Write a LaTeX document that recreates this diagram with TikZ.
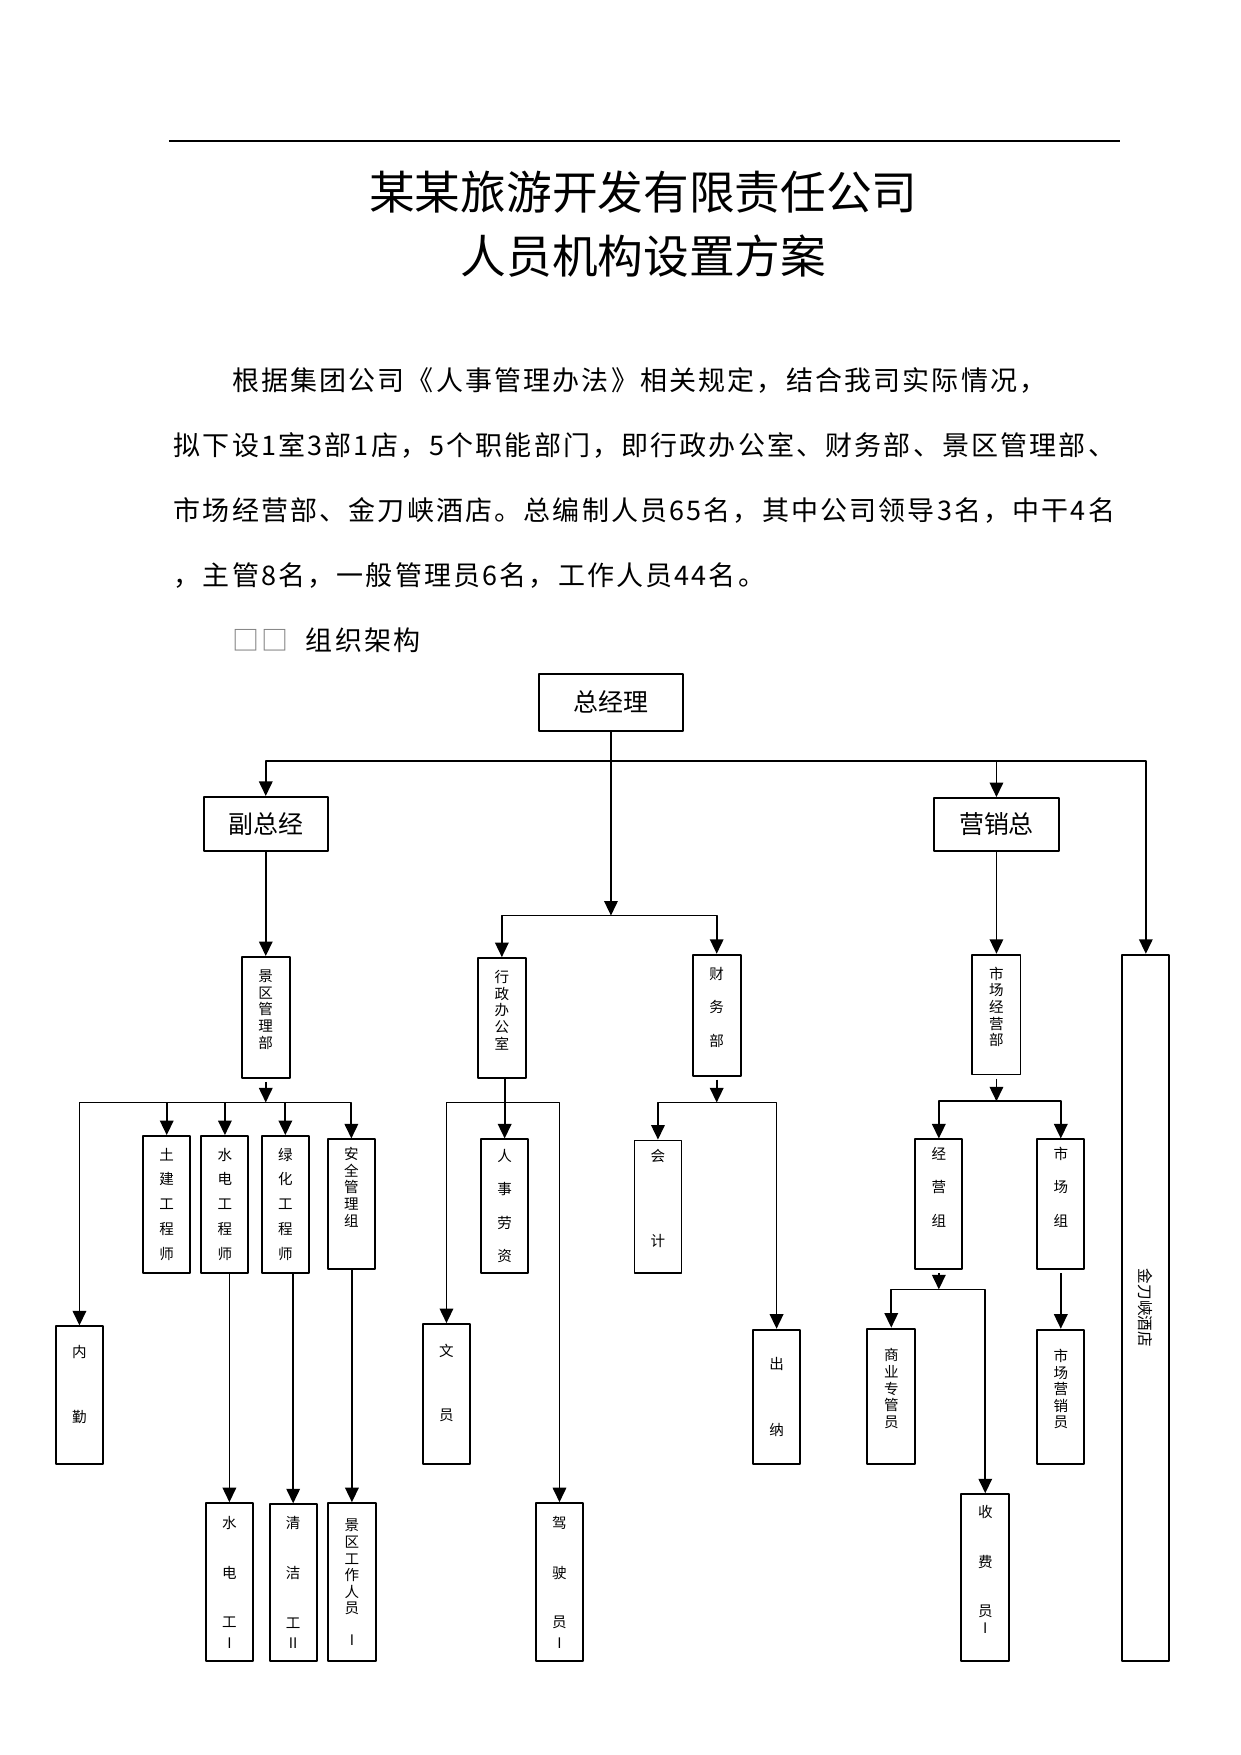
\documentclass[tikz,border=0pt]{standalone}
\usepackage{fontspec}
\setmainfont{Noto Sans CJK SC}
\usetikzlibrary{arrows.meta}
\newcommand\px{0.1894mm}
\begin{document}
\begin{tikzpicture}[x=0.18936mm, y=-0.18941mm, line join=round, >={Triangle[length=7pt,width=6.5pt]},
  box/.style 2 args={draw, line width=0.9pt, inner sep=0pt, minimum width=#1*\px, minimum height=#2*\px},
  vt/.style={align=center, font=\fontsize{7pt}{8pt}\selectfont},
  big/.style={font=\fontsize{12pt}{14pt}\selectfont},
  ttl/.style={inner sep=0pt, font=\fontsize{22pt}{26pt}\selectfont},
  para/.style={anchor=west, inner sep=0pt, font=\fontsize{13pt}{15pt}\selectfont\addfontfeature{LetterSpace=8}},
  conn/.style={line width=0.85pt}]
\useasboundingbox (0,0) rectangle (1109,1568);
\draw[line width=0.8pt] (151,126) -- (1001,126);
\node[ttl] (title1) at (575,172) {某某旅游开发有限责任公司};
\node[ttl] (title2) at (575,229) {人员机构设置方案};
\node[para] (p1) at (207,340) {根据集团公司《人事管理办法》相关规定，结合我司实际情况，};
\node[para] (p2) at (155,398) {拟下设1室3部1店，5个职能部门，即行政办公室、财务部、景区管理部、};
\node[para] (p3) at (155,456) {市场经营部、金刀峡酒店。总编制人员65名，其中公司领导3名，中干4名};
\node[para] (p4) at (155,514) {，主管8名，一般管理员6名，工作人员44名。};
\node[para, text=gray] (sq) at (207,572) {□□};
\node[para] (p5) at (273,572) {组织架构};

\node[box={128}{51}, big] (zjl) at (546,627.5) {总经理};
\node[box={111}{48}, big] (fzj) at (237.5,736) {副总经\hspace{9.7pt}};
\node[box={111}{47}, big] (yxz) at (890.5,736.5) {营销总};
\node[box={43}{108}, vt] (jq) at (237.5,909) {景\\区\\管\\理\\部\\\mbox{}};
\node[box={43}{107}, vt] (xz) at (448.5,909.5) {行\\政\\办\\公\\室\\\mbox{}};
\node[box={43}{108}, vt] (cw) at (640.5,907) {财\\[8pt]务\\[8pt]部\\\mbox{}};
\node[box={43}{107}, vt] (sc) at (890.5,906.5) {市\\场\\经\\营\\部\\\mbox{}};
\node[box={42}{631}] (jdx) at (1024,1168.5) {};
\node[rotate=-90, font=\fontsize{7.5pt}{9pt}\selectfont] (jdxt) at (jdx) {金刀峡酒店};

\node[box={42}{123}, vt] (nq) at (71,1246.5) {内\\[23pt]勤\\[3pt]\mbox{}};
\node[box={42}{122}, vt] (tj) at (149,1076) {土\\[4pt]建\\[4pt]工\\[4pt]程\\[4pt]师};
\node[box={42}{122}, vt] (sd) at (201,1076) {水\\[4pt]电\\[4pt]工\\[4pt]程\\[4pt]师};
\node[box={42}{122}, vt] (lh) at (255,1076) {绿\\[4pt]化\\[4pt]工\\[4pt]程\\[4pt]师};
\node[box={42}{116}, vt] (aq) at (314,1076) {安\\全\\管\\理\\组\\[9pt]\mbox{}};
\node[box={42}{141}, vt] (sdg) at (205,1413.5) {水\\[16pt]电\\[16pt]工\\[1.7pt]I};
\node[box={42}{140}, vt] (qj) at (262,1414) {清\\[16pt]洁\\[16pt]工\\[1.7pt]II};
\node[box={43}{141}, vt] (jqry) at (314.5,1413.5) {景\\区\\工\\作\\人\\员\\[7pt]I};

\node[box={42}{119}, vt] (rs) at (451,1077.5) {人\\[8pt]事\\[8pt]劳\\[8pt]资};
\node[box={42}{125}, vt] (wy) at (399,1245.5) {文\\[23pt]员\\[3pt]\mbox{}};
\node[box={42}{141}, vt] (jsy) at (500,1413.5) {驾\\[16pt]驶\\[16pt]员\\[1.7pt]I};
\node[box={42}{118}, vt] (kj) at (588,1078) {会\\[33pt]计\\\mbox{}};
\node[box={42}{120}, vt] (cn) at (694,1248) {出\\[24pt]纳};

\node[box={42}{116}, vt] (jyz) at (839,1076) {经\\[8pt]营\\[8pt]组\\[9pt]\mbox{}};
\node[box={42}{116}, vt] (scz) at (948,1076) {市\\[8pt]场\\[8pt]组\\[9pt]\mbox{}};
\node[box={43}{121}, vt] (syzg) at (796.5,1247.5) {商\\业\\专\\管\\员\\\mbox{}};
\node[box={43}{149}, vt] (sfy) at (880.5,1409.5) {收\\[16pt]费\\[16pt]员\\I\\\mbox{}};
\node[box={42}{120}, vt] (scyx) at (948,1248) {市\\场\\营\\销\\员\\\mbox{}};

\coordinate (bus1) at (546,680);
\coordinate (bus2) at (546,818);
\coordinate (bus3) at (237.5,985);
\coordinate (bus4) at (451,985);
\coordinate (bus5) at (640.5,985);
\coordinate (bus6) at (890.5,984);
\coordinate (bus7) at (839,1152);

\draw[conn] (zjl) -- (bus1);
\foreach \n in {fzj,yxz,jdx}
  \draw[conn,->] (bus1) -| (\n);
\draw[conn,->] (bus1) -- (bus2);
\foreach \n in {xz,cw}
  \draw[conn,->] (bus2) -| (\n);
\draw[conn,->] (fzj) -- (jq);
\draw[conn,->] (yxz) -- (sc);

\draw[conn,->] ([yshift=-1.5pt]jq.south) -- (bus3);
\foreach \n in {nq,tj,sd,lh,aq}
  \draw[conn,->] (bus3) -| (\n);
\draw[conn,->] (sd.south -| sdg) -- (sdg);
\draw[conn,->] (lh.south -| qj) -- (qj);
\draw[conn,->] (aq.south -| jqry) -- (jqry);

\draw[conn,->] (xz.south -| rs) -- (rs);
\foreach \n in {wy,jsy}
  \draw[conn,->] (bus4) -| (\n);

\draw[conn,->] ([yshift=-1.5pt]cw.south) -- (bus5);
\foreach \n in {kj,cn}
  \draw[conn,->] (bus5) -| (\n);

\draw[conn,->] ([yshift=-1.5pt]sc.south) -- (bus6);
\foreach \n in {jyz,scz}
  \draw[conn,->] (bus6) -| (\n);
\draw[conn,->] ([yshift=-1.5pt]jyz.south) -- (bus7);
\foreach \n in {syzg,sfy}
  \draw[conn,->] (bus7) -| (\n);
\draw[conn,->] ([yshift=-1.5pt]scz.south) -- (scyx);
\end{tikzpicture}
\end{document}
